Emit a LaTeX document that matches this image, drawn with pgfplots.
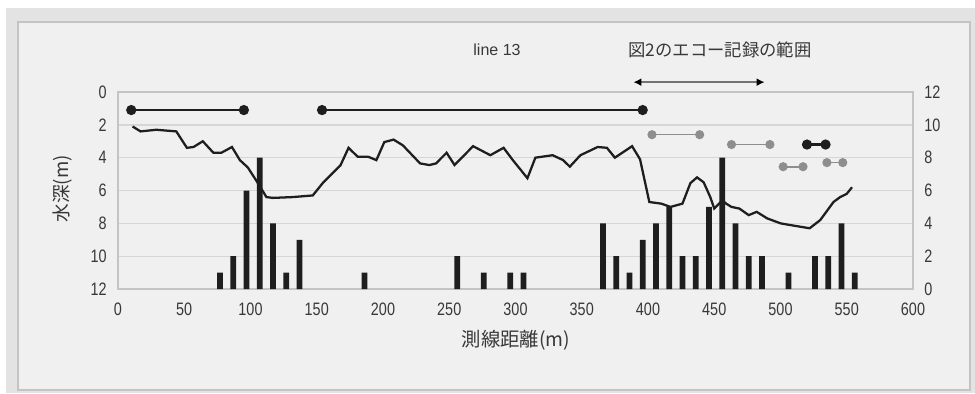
\documentclass[border=0pt]{standalone}
\usepackage{pgfplots}
\pgfplotsset{compat=1.18}
\usepackage{fontspec}
\setmainfont{Liberation Sans}
\newfontfamily\narrow{Liberation Sans}[FakeStretch=0.8]
\newfontfamily\cjk{Noto Sans CJK JP}
\usetikzlibrary{arrows.meta}
\definecolor{bg}{HTML}{F0F0F0}
\definecolor{outer}{HTML}{E3E3E3}
\definecolor{framec}{HTML}{C4C4C4}
\definecolor{gridc}{HTML}{D6D6D6}
\definecolor{segg}{HTML}{8E8E8E}
\definecolor{ink}{HTML}{1E1E1E}
\begin{document}
\begin{tikzpicture}
\path[use as bounding box] (0pt,0pt) rectangle (731.25pt,-294.75pt);
\fill[white] (0pt,0pt) rectangle (731.25pt,-294.75pt);
\fill[outer] (4.5pt,-6pt) rectangle (731.25pt,-294.75pt);
\filldraw[fill=bg,draw=framec,line width=0.8pt] (13.5pt,-16.5pt) rectangle (727.5pt,-292.5pt);
% plot area 118..913 x 92..289 px
\begin{axis}[
  at={(88.5pt,-216.75pt)}, anchor=south west,
  scale only axis, width=596.25pt, height=147.75pt,
  xmin=0, xmax=600, ymin=0, ymax=12, y dir=reverse,
  xtick={0,50,...,600}, ytick={0,2,...,12},
  axis background/.style={fill=bg},
  axis line style={framec, line width=1.2pt},
  major tick length=0pt,
  ymajorgrids, grid style={gridc, line width=1pt},
  /pgf/number format/assume math mode=true,
  tick label style={font=\narrow\fontsize{13.5}{13.5}\selectfont, text=black!78},
  xticklabel style={yshift=-7pt},
  yticklabel style={xshift=-5pt},
  clip=false,
]
\addplot[ink, line width=1.7pt, mark=none] coordinates {
(11,2.1) (17,2.4) (29,2.3) (44,2.4) (52,3.4) (57,3.35) (64,3.0) (72,3.7) (78,3.7) (86,3.35)
(92,4.15) (98,4.6) (106,5.6) (112,6.4) (117,6.45) (132,6.4) (147,6.3) (155,5.5) (168,4.45)
(174,3.4) (181,3.95) (189,3.95) (195,4.15) (201,3.05) (208,2.9) (215,3.25) (228,4.35)
(235,4.45) (240,4.35) (248,3.7) (254,4.45) (268,3.3) (281,3.85) (291,3.4) (298,4.15)
(309,5.25) (315,4.0) (328,3.85) (336,4.15) (341,4.55) (349,3.85) (362,3.35) (369,3.4)
(375,4.0) (388,3.3) (394,4.1) (401,6.7) (410,6.8) (417,7.0) (426,6.8) (432,5.55) (437,5.2)
(442,5.5) (447,6.4) (450,7.1) (456,6.6) (459,6.8) (463,7.0) (469,7.1) (476,7.5) (482,7.3)
(490,7.7) (500,8.0) (507,8.1) (522,8.3) (530,7.8) (540,6.7) (545,6.4) (550,6.2) (554,5.8)
};
% black range segments
\addplot[ink, line width=1.6pt, mark=*, mark size=3pt] coordinates {(10,1.1) (95,1.1)};
\addplot[ink, line width=1.6pt, mark=*, mark size=3pt] coordinates {(154,1.1) (396,1.1)};
\addplot[ink, line width=1.6pt, mark=*, mark size=3pt] coordinates {(520,3.2) (534,3.2)};
% gray range segments
\addplot[segg, line width=1.2pt, mark=*, mark size=2.8pt] coordinates {(403,2.6) (439,2.6)};
\addplot[segg, line width=1.2pt, mark=*, mark size=2.8pt] coordinates {(463,3.2) (492,3.2)};
\addplot[segg, line width=1.2pt, mark=*, mark size=2.8pt] coordinates {(502,4.55) (517,4.55)};
\addplot[segg, line width=1.2pt, mark=*, mark size=2.8pt] coordinates {(535,4.3) (547,4.3)};
% echo record range arrow
\draw[black!55, line width=1.4pt, {Latex[length=6pt,width=6pt,black]}-{Latex[length=6pt,width=6pt,black]}]
  (axis cs:389,-0.6) -- (axis cs:488,-0.6);
\end{axis}
\begin{axis}[
  at={(88.5pt,-216.75pt)}, anchor=south west,
  scale only axis, width=596.25pt, height=147.75pt,
  xmin=0, xmax=600, ymin=0, ymax=12,
  axis y line*=right, hide x axis,
  axis line style={draw=none},
  ytick={0,2,...,12}, major tick length=0pt,
  /pgf/number format/assume math mode=true,
  tick label style={font=\narrow\fontsize{13.5}{13.5}\selectfont, text=black!78},
  yticklabel style={xshift=5pt},
]
\addplot[ybar, bar width=4.2pt, fill=ink, draw=none] coordinates {
(77,1) (87,2) (97,6) (107,8) (117,4) (127,1) (137,3) (186,1) (256,2) (276,1) (296,1) (306,1)
(366,4) (376,2) (386,1) (396,3) (406,4) (416,5) (426,2) (436,2) (446,5) (456,8) (466,4)
(476,2) (486,2) (506,1) (526,2) (536,2) (546,4) (556,1)
};
\end{axis}
\node[font=\fontsize{12}{12}\selectfont, text=black!78] at (372.75pt,-37.5pt) {line 13};
\node[font=\cjk\fontsize{13}{13}\selectfont, text=black!78] at (540pt,-37.5pt) {図2のエコー記録の範囲};
\node[font=\cjk\fontsize{14}{14}\selectfont, text=black!78, rotate=90] at (47.25pt,-141.75pt) {水深(m)};
\node[font=\cjk\fontsize{14.5}{14.5}\selectfont, text=black!78] at (387pt,-255pt) {測線距離(m)};
\end{tikzpicture}
\end{document}
